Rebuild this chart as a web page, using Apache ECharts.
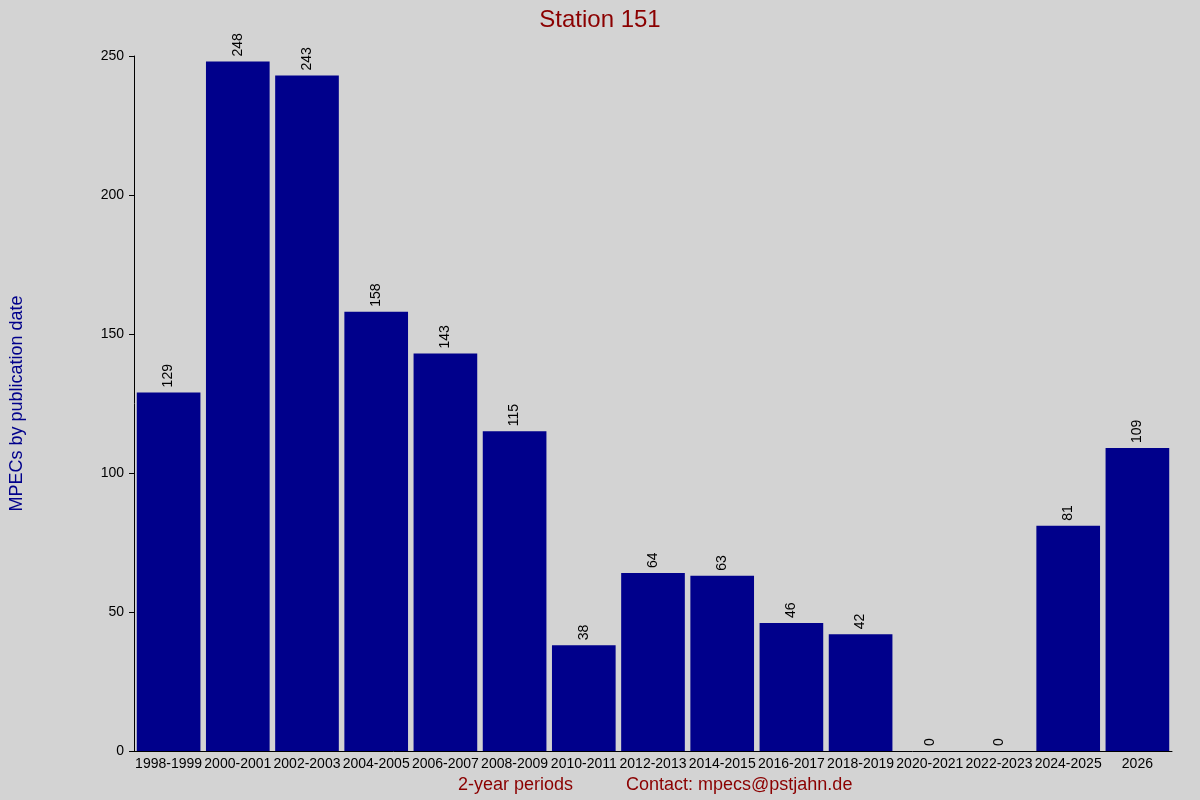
<!DOCTYPE html>
<html><head><meta charset="utf-8">
<script src="https://cdn.jsdelivr.net/npm/echarts@6/dist/echarts.min.js"></script>
<style>html,body{margin:0;background:#d3d3d3}#c{width:1200px;height:800px}</style>
</head><body><div id="c"></div>
<script>
const categories=["1998-1999","2000-2001","2002-2003","2004-2005","2006-2007","2008-2009","2010-2011","2012-2013","2014-2015","2016-2017","2018-2019","2020-2021","2022-2023","2024-2025","2026"];
const values=[129,248,243,158,143,115,38,64,63,46,42,0,0,81,109];
const yTicks=[0,50,100,150,200,250];
const chart=echarts.init(document.getElementById('c'));
chart.setOption({
  backgroundColor:'#d3d3d3',
  animation:false,
  title:{text:'Station 151',left:'center',top:3,textStyle:{color:'#8b0000',fontSize:24,fontWeight:'normal',fontFamily:'Liberation Sans'}},
  grid:{left:125,right:28,top:56,bottom:49},
  xAxis:{type:'category',data:categories,
    axisLine:{lineStyle:{color:'#000'}},axisTick:{show:false},
    axisLabel:{color:'#000',fontSize:14,fontFamily:'Liberation Sans',interval:0,margin:6}},
  yAxis:{type:'value',min:0,max:250,interval:50,
    name:'MPECs by publication date',nameLocation:'middle',nameGap:108,
    nameTextStyle:{color:'#00008b',fontSize:18,fontFamily:'Liberation Sans'},
    axisLine:{show:true,lineStyle:{color:'#000'}},axisTick:{show:true,length:5,lineStyle:{color:'#000'}},
    splitLine:{show:false},
    axisLabel:{color:'#000',fontSize:14,fontFamily:'Liberation Sans',margin:10,formatter:v=>yTicks.includes(v)?String(v):''}},
  series:[{type:'bar',data:values,barCategoryGap:'8%',itemStyle:{color:'#00008b'},
    label:{show:true,position:'top',rotate:90,align:'left',verticalAlign:'middle',distance:5,color:'#000',fontSize:14,fontFamily:'Liberation Sans'}}],
  graphic:[
    {type:'text',left:458,top:776,style:{text:'2-year periods',fill:'#8b0000',fontSize:18,fontFamily:'Liberation Sans'}},
    {type:'text',left:626,top:776,style:{text:'Contact: mpecs@pstjahn.de',fill:'#8b0000',fontSize:18,fontFamily:'Liberation Sans'}}
  ]
});
</script></body></html>
